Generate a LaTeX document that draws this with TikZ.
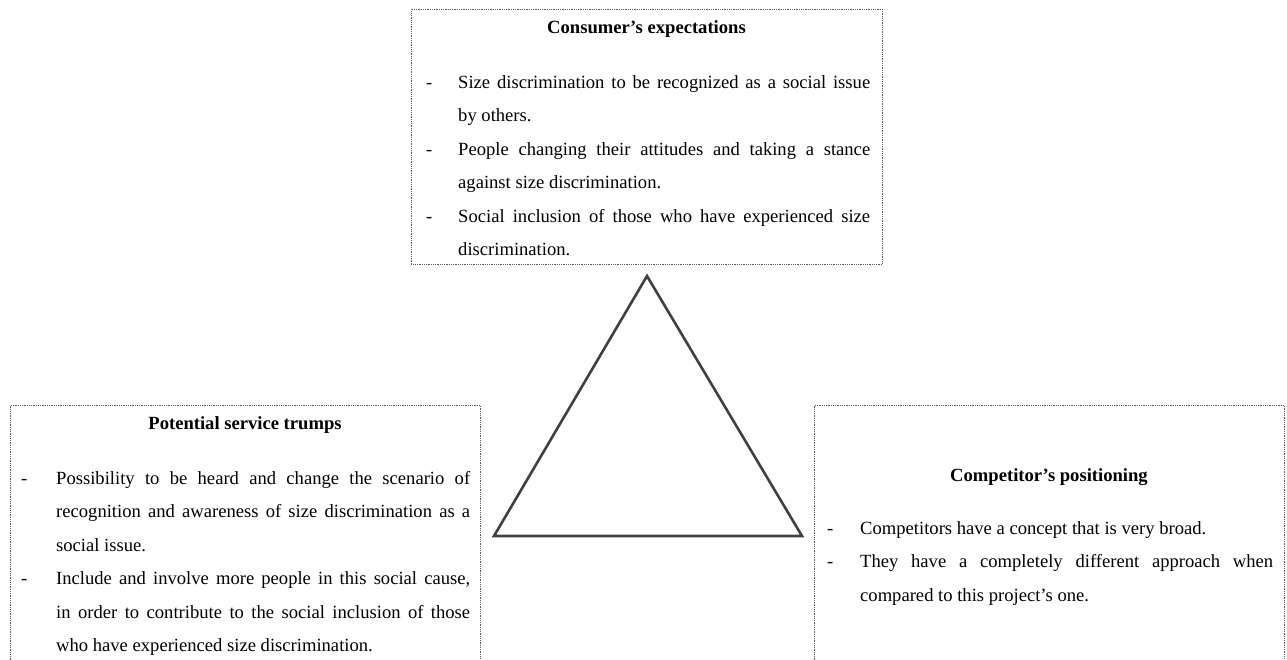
\documentclass[tikz,border=0pt]{standalone}
\usepackage{fontspec}
\setmainfont{Liberation Serif}
\newcommand\dashitem[2]{\par\hangindent=#1\hangafter=1\noindent\makebox[#1][l]{-}#2\par}
\tikzset{
  frame/.style={draw=black!65, line width=0.7pt, dash pattern=on 0.9pt off 0.9pt, inner sep=0pt, anchor=north west},
  title/.style={font=\fontsize{18.6}{33.5}\selectfont\bfseries, anchor=base, inner sep=0pt},
  body/.style={font=\fontsize{18.6}{33.5}\selectfont, anchor=north west, inner sep=0pt, align=justify},
  tri/.style={draw=black!75, line width=2.6pt, line join=miter}
}
\begin{document}
\begin{tikzpicture}[x=1pt,y=-1pt]
\useasboundingbox (0,0) rectangle (1287,659);
\clip (0,0) rectangle (1287,659);
% frames
\node[frame, minimum width=471pt, minimum height=255pt] (cbox) at (411,9) {};
\node[frame, minimum width=470pt, minimum height=300pt] (pbox) at (10,405) {};
\node[frame, minimum width=470pt, minimum height=300pt] (kbox) at (814,405) {};
% titles
\node[title] (ctitle) at (646.5,33) {Consumer’s expectations};
\node[title] (ptitle) at (245,429) {Potential service trumps};
\node[title] (ktitle) at (1049,481) {Competitor’s positioning};
% bodies
\node[body, text width=444pt] (cbody) at (426,54.5) {%
\dashitem{32pt}{Size discrimination to be recognized as a social issue\linebreak by others.}%
\dashitem{32pt}{People changing their attitudes and taking a stance\linebreak against size discrimination.}%
\dashitem{32pt}{Social inclusion of those who have experienced size\linebreak discrimination.}};
\node[body, text width=449pt] (pbody) at (21,450.5) {%
\dashitem{35pt}{Possibility to be heard and change the scenario of\linebreak recognition and awareness of size discrimination as a\linebreak social issue.}%
\dashitem{35pt}{Include and involve more people in this social cause,\linebreak in order to contribute to the social inclusion of those\linebreak who have experienced size discrimination.}};
\node[body, text width=446pt] (kbody) at (827,500.5) {%
\dashitem{33pt}{Competitors have a concept that is very broad.}%
\dashitem{33pt}{They have a completely different approach when\linebreak compared to this project’s one.}};
% triangle
\coordinate (apex) at (647,276);
\coordinate (bl) at (494,536);
\coordinate (br) at (802,536);
\draw[tri] (apex) -- (bl) -- (br) -- cycle;
\end{tikzpicture}
\end{document}
